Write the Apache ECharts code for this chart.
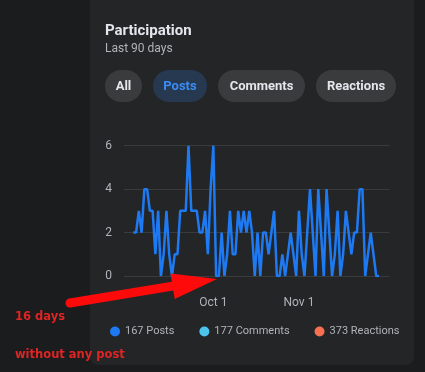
<!DOCTYPE html>
<html>
<head>
<meta charset="utf-8">
<script src="https://cdn.jsdelivr.net/npm/echarts@6/dist/echarts.min.js"></script>
<style>
html,body{margin:0;padding:0;background:#1b1c1d;}
#chart{width:425px;height:372px;}
</style>
</head>
<body>
<div id="chart"></div>
<script>
// Daily posts, last 90 days (Sep 2 .. Nov 30)
const posts = [
  2,2,3,2,4,4,3,3,1,3,
  0,1,3,1,0,1,1,3,3,3,
  6,3,3,3,2,2,3,1,4,6,
  0,0,2,0,1,3,1,1,3,2,
  3,2,3,2,0,2,0,2,2,1,
  2,3,0,0,1,0,1,2,1,0,
  3,1,0,2,4,2,0,4,2,0,
  4,2,0,1,3,0,1,3,2,1,
  2,2,4,4,0,1,2,1,0,0
];
const comments = [];
const reactions = [];
const seriesNames = ['167 Posts', '177 Comments', '373 Reactions'];
const seriesColors = ['#1d7af2', '#4cc4ee', '#f7704f'];
const tickIndex = [29, 60];
const tickLabels = ['Oct 1', 'Nov 1'];
const buttons = ['All', 'Posts', 'Comments', 'Reactions'];

const chart = echarts.init(document.getElementById('chart'), null, {renderer: 'canvas'});

const FONT = 'Roboto, "Liberation Sans", sans-serif';
const btnBoxes = [[105, 37], [153, 54], [218, 87], [316, 80]];
const btnGraphics = buttons.map((b, i) => {
  const sel = b === 'Posts';
  return {
    type: 'group',
    children: [
      {type: 'rect', shape: {x: btnBoxes[i][0], y: 70, width: btnBoxes[i][1], height: 32, r: 16},
       style: {fill: sel ? '#263951' : '#3a3b3c'}},
      {type: 'text', x: btnBoxes[i][0] + btnBoxes[i][1] / 2, y: 87,
       style: {text: b, fill: sel ? '#3b8cf5' : '#e4e6eb', font: 'bold 13px ' + FONT, align: 'center', verticalAlign: 'middle'}}
    ]
  };
});

const option = {
  backgroundColor: '#1b1c1d',
  animation: false,
  grid: {left: 124, right: 35.5, top: 145.7, bottom: 96, containLabel: false},
  xAxis: {
    type: 'value',
    min: -3.37,
    max: 92.8,
    axisLine: {show: false},
    axisTick: {show: false},
    splitLine: {show: false},
    axisLabel: {
      customValues: tickIndex,
      formatter: v => tickLabels[tickIndex.indexOf(Math.round(v))] || '',
      color: '#b0b3b8',
      fontSize: 12,
      fontFamily: FONT,
      margin: 21
    }
  },
  yAxis: {
    type: 'value',
    min: 0,
    max: 6,
    interval: 2,
    axisLine: {show: false},
    axisTick: {show: false},
    splitLine: {lineStyle: {color: '#3a3b3c', width: 1}},
    axisLabel: {color: '#b0b3b8', fontSize: 12, fontFamily: FONT, margin: 12}
  },
  legend: {
    left: 105,
    top: 321,
    icon: 'circle',
    itemWidth: 10,
    itemHeight: 10,
    itemGap: 25,
    textStyle: {color: '#b0b3b8', fontSize: 11, fontFamily: FONT},
    data: seriesNames
  },
  series: [
    {name: seriesNames[0], type: 'line', data: posts.map((v, i) => [i, v]), showSymbol: false,
     color: seriesColors[0], lineStyle: {width: 2.5, color: seriesColors[0]}, z: 3},
    {name: seriesNames[1], type: 'line', data: comments, showSymbol: false, color: seriesColors[1]},
    {name: seriesNames[2], type: 'line', data: reactions, showSymbol: false, color: seriesColors[2]}
  ],
  graphic: [
    {type: 'rect', z: -10, shape: {x: 90, y: -20, width: 324, height: 385, r: 8}, style: {fill: '#242526'}},
    {type: 'text', x: 105, y: 31, style: {text: 'Participation', fill: '#e4e6eb', font: 'bold 15px ' + FONT, verticalAlign: 'middle'}},
    {type: 'text', x: 105, y: 48.5, style: {text: 'Last 90 days', fill: '#b0b3b8', font: '12px ' + FONT, verticalAlign: 'middle'}},
    ...btnGraphics,
    {type: 'polygon', z: 100,
     shape: {points: [[69.3, 298.6], [171.9, 281.8], [170.5, 273.4], [217, 279], [174.7, 299.0], [173.3, 290.6], [70.7, 307.4]]},
     style: {fill: '#ff0a0a'}},
    {type: 'circle', z: 100, shape: {cx: 70, cy: 303, r: 4.5}, style: {fill: '#ff0a0a'}},
    {type: 'text', z: 100, x: 15, y: 317, style: {text: '16 days', fill: '#e02424', font: 'bold 11.5px "DejaVu Sans", sans-serif', verticalAlign: 'middle'}},
    {type: 'text', z: 100, x: 15, y: 355, style: {text: 'without any post', fill: '#e02424', font: 'bold 11.5px "DejaVu Sans", sans-serif', verticalAlign: 'middle'}}
  ]
};
chart.setOption(option);
</script>
</body>
</html>
